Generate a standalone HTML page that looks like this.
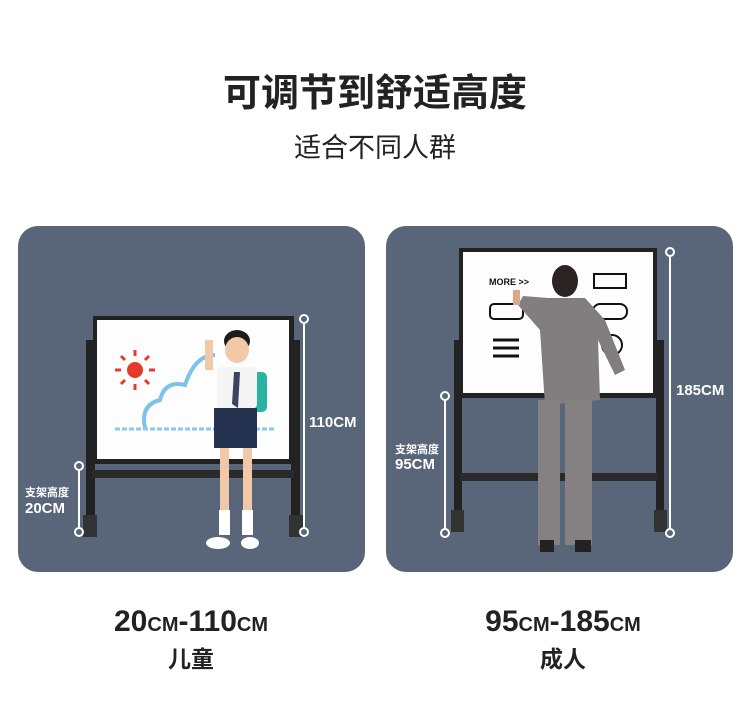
<!DOCTYPE html>
<html><head><meta charset="utf-8"><style>
body{margin:0;background:#fff;}
svg{display:block}
text{font-family:"Liberation Sans","Noto Sans CJK SC",sans-serif;}
</style></head><body>
<svg width="750" height="726" viewBox="0 0 750 726" xmlns="http://www.w3.org/2000/svg">
<rect width="750" height="726" fill="#fff"/>
<text x="375" y="106" text-anchor="middle" font-size="38" font-weight="bold" fill="#222">可调节到舒适高度</text>
<text x="375" y="157" text-anchor="middle" font-size="27" fill="#222">适合不同人群</text>

<!-- left panel -->
<rect x="18" y="226" width="347" height="346" rx="20" fill="#59667a"/>
<rect x="86" y="340" width="9" height="195" fill="#222"/>
<rect x="291" y="340" width="9" height="195" fill="#222"/>
<rect x="92" y="470" width="202" height="8" fill="#2a2a2a"/>
<rect x="83" y="515" width="14" height="22" fill="#333"/>
<rect x="289" y="515" width="14" height="22" fill="#333"/>
<rect x="93" y="316" width="201" height="148" fill="#222"/>
<rect x="97" y="320" width="192" height="139" fill="#fdfdfd"/>
<circle cx="135" cy="370" r="8" fill="#e53a2a"/>
<g stroke="#e53a2a" stroke-width="3"><line x1="135" y1="350" x2="135" y2="356"/><line x1="135" y1="384" x2="135" y2="390"/><line x1="115" y1="370" x2="121" y2="370"/><line x1="149" y1="370" x2="155" y2="370"/><line x1="121" y1="356" x2="125" y2="360"/><line x1="145" y1="380" x2="149" y2="384"/><line x1="149" y1="356" x2="145" y2="360"/><line x1="121" y1="384" x2="125" y2="380"/></g>
<path d="M145 428 Q140 405 160 400 Q165 380 185 385 Q195 355 215 355" fill="none" stroke="#7ec2ea" stroke-width="4"/>
<line x1="115" y1="429" x2="275" y2="429" stroke="#8cc8ec" stroke-width="3" stroke-dasharray="5 2"/>
<!-- child -->
<ellipse cx="237" cy="341" rx="13" ry="11" fill="#1c1c1c"/>
<ellipse cx="237" cy="350" rx="12" ry="13" fill="#f2c9a8"/>
<rect x="252" y="372" width="15" height="40" rx="5" fill="#2ab3a0"/>
<rect x="217" y="367" width="40" height="42" rx="5" fill="#f5f5f5"/>
<polygon points="234,372 240,372 238,408 232,404" fill="#3a4460"/>
<rect x="205" y="340" width="8" height="30" fill="#f2c9a8"/>
<rect x="214" y="408" width="43" height="40" fill="#263350"/>
<rect x="220" y="448" width="9" height="70" fill="#f2c9a8"/>
<rect x="243" y="448" width="9" height="70" fill="#f2c9a8"/>
<rect x="219" y="510" width="11" height="25" fill="#fff"/>
<rect x="242" y="510" width="11" height="25" fill="#fff"/>
<ellipse cx="218" cy="543" rx="12" ry="6" fill="#fff"/>
<ellipse cx="250" cy="543" rx="9" ry="6" fill="#fff"/>
<g stroke="#fff" stroke-width="2" fill="#59667a">
<line x1="304" y1="320" x2="304" y2="532"/><circle cx="304" cy="319" r="4"/><circle cx="304" cy="532" r="4"/>
<line x1="79" y1="466" x2="79" y2="532"/><circle cx="79" cy="466" r="4"/><circle cx="79" cy="532" r="4"/>
</g>
<text x="309" y="427" font-size="15" font-weight="bold" fill="#fff">110CM</text>
<text x="25" y="496" font-size="11" font-weight="bold" fill="#fff">支架高度</text>
<text x="25" y="513" font-size="15" font-weight="bold" fill="#fff">20CM</text>

<!-- right panel -->
<rect x="386" y="226" width="347" height="346" rx="20" fill="#59667a"/>
<rect x="454" y="340" width="8" height="190" fill="#222"/>
<rect x="656" y="340" width="8" height="190" fill="#222"/>
<rect x="460" y="473" width="198" height="8" fill="#2a2a2a"/>
<rect x="451" y="510" width="13" height="22" fill="#333"/>
<rect x="654" y="510" width="13" height="22" fill="#333"/>
<rect x="459" y="248" width="198" height="150" fill="#222"/>
<rect x="463" y="252" width="190" height="141" fill="#fdfdfd"/>
<text x="489" y="285" font-size="9" font-weight="bold" fill="#111">MORE &gt;&gt;</text>
<rect x="594" y="274" width="32" height="14" fill="none" stroke="#111" stroke-width="2"/>
<rect x="490" y="304" width="33" height="15" rx="4" fill="none" stroke="#111" stroke-width="2"/>
<rect x="593" y="304" width="34" height="15" rx="7" fill="none" stroke="#111" stroke-width="2"/>
<g stroke="#111" stroke-width="3"><line x1="493" y1="340" x2="519" y2="340"/><line x1="493" y1="348" x2="519" y2="348"/><line x1="493" y1="356" x2="519" y2="356"/></g>
<circle cx="612" cy="345" r="10" fill="none" stroke="#111" stroke-width="2"/>
<!-- man -->
<ellipse cx="565" cy="281" rx="13" ry="16" fill="#2a2522"/>
<polygon points="548,298 585,298 605,320 625,370 615,375 598,340 600,400 545,405 540,330 518,305 523,296" fill="#827d7e"/>
<rect x="513" y="290" width="7" height="15" fill="#d9a98a"/>
<rect x="538" y="400" width="22" height="145" fill="#858081"/>
<rect x="565" y="400" width="27" height="145" fill="#858081"/>
<rect x="540" y="540" width="14" height="12" fill="#222"/>
<rect x="575" y="540" width="16" height="12" fill="#222"/>
<g stroke="#fff" stroke-width="2" fill="#59667a">
<line x1="445" y1="396" x2="445" y2="533"/><circle cx="445" cy="396" r="4"/><circle cx="445" cy="533" r="4"/>
<line x1="670" y1="252" x2="670" y2="533"/><circle cx="670" cy="252" r="4"/><circle cx="670" cy="533" r="4"/>
</g>
<text x="676" y="395" font-size="15" font-weight="bold" fill="#fff">185CM</text>
<text x="395" y="453" font-size="11" font-weight="bold" fill="#fff">支架高度</text>
<text x="395" y="469" font-size="15" font-weight="bold" fill="#fff">95CM</text>

<!-- bottom labels -->
<text x="191" y="631" text-anchor="middle" font-size="30" font-weight="bold" fill="#222">20<tspan font-size="20">CM</tspan>-110<tspan font-size="20">CM</tspan></text>
<text x="191" y="667" text-anchor="middle" font-size="23" font-weight="bold" fill="#222">儿童</text>
<text x="563" y="631" text-anchor="middle" font-size="30" font-weight="bold" fill="#222">95<tspan font-size="20">CM</tspan>-185<tspan font-size="20">CM</tspan></text>
<text x="563" y="667" text-anchor="middle" font-size="23" font-weight="bold" fill="#222">成人</text>
</svg>
</body></html>
